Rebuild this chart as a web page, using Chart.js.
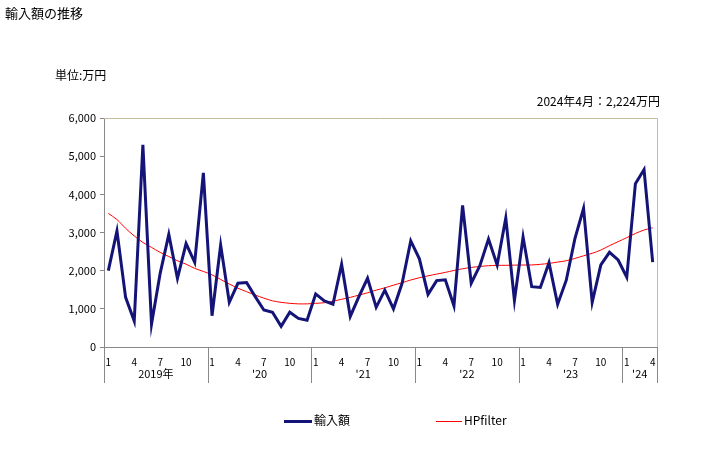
<!DOCTYPE html>
<html>
<head>
<meta charset="utf-8">
<script src="https://cdn.jsdelivr.net/npm/chart.js@4/dist/chart.umd.min.js"></script>
<style>
  body { margin: 0; background: #fff; font-family: "Noto Sans CJK JP", sans-serif; }
  #wrap { position: relative; width: 728px; height: 450px; }
  .txt { position: absolute; font-size: 12px; color: #000; white-space: nowrap; }
  .leg { position: absolute; top: 413px; font-size: 12px; line-height: 14px; }
  .leg span { display: inline-block; vertical-align: middle; margin-right: 2px; }
</style>
</head>
<body>
<div id="wrap">
  <canvas id="grafico" width="728" height="450"></canvas>
  <div class="txt" style="left:5px;top:3px;font-size:13px;">輸入額の推移</div>
  <div class="txt" style="left:55px;top:66px;">単位:万円</div>
  <div class="txt" style="right:68px;top:92px;">2024年4月：2,224万円</div>
  <div class="leg" style="left:284px;"><span style="width:28px;height:3px;background:#141478;"></span>輸入額</div>
  <div class="leg" style="left:436px;"><span style="width:26px;height:1px;background:#ff0000;"></span>HPfilter</div>
</div>
<script>
// meses jan/2019 .. abr/2024
const meses = [];
for (let a = 2019; a <= 2024; a++) {
    const fim = a === 2024 ? 4 : 12;
    for (let m = 1; m <= fim; m++) meses.push(String(m));
}
const anos = ['2019年', "'20", "'21", "'22", "'23", "'24"];
const mesesVisiveis = ['1', '4', '7', '10'];

const importacao = [
    2000, 3040, 1300, 680, 5300, 600, 1930, 2950, 1800, 2710, 2220, 4560,
    820, 2670, 1170, 1670, 1690, 1320, 970, 910, 540, 910, 750, 700,
    1390, 1210, 1120, 2170, 800, 1320, 1800, 1040, 1490, 1000, 1670, 2780,
    2310, 1380, 1740, 1760, 1080, 3710, 1670, 2130, 2830, 2150, 3380, 1220,
    2880, 1580, 1560, 2210, 1120, 1750, 2840, 3630, 1170, 2150, 2480, 2280,
    1830, 4280, 4650, 2224
];
const hpFilter = [
    3500, 3340, 3110, 2910, 2740, 2610, 2480, 2370, 2260, 2170, 2060, 1980,
    1890, 1770, 1650, 1540, 1450, 1360, 1280, 1210, 1170, 1145, 1130, 1130,
    1145, 1160, 1200, 1250, 1300, 1360, 1420, 1490, 1550, 1620, 1685, 1755,
    1815, 1865, 1910, 1955, 2005, 2050, 2085, 2110, 2130, 2140, 2140, 2145,
    2148, 2150, 2166, 2190, 2225, 2260, 2320, 2390, 2455, 2540, 2655, 2760,
    2865, 2975, 3065, 3125
];

const eixoAnos = {
    id: 'eixoAnos',
    afterDraw(chart) {
        const ctx = chart.ctx;
        const x = chart.scales.x;
        const area = chart.chartArea;
        // borda superior e direita
        ctx.save();
        ctx.strokeStyle = '#c4bc9c';
        ctx.lineWidth = 1;
        ctx.beginPath();
        ctx.moveTo(area.left, area.top + 0.5);
        ctx.lineTo(area.right + 0.5, area.top + 0.5);
        ctx.lineTo(area.right + 0.5, area.bottom);
        ctx.stroke();

        const limites = [];
        for (let i = 0; i < meses.length; i += 12) {
            limites.push(i === 0 ? area.left : (x.getPixelForValue(i - 1) + x.getPixelForValue(i)) / 2);
        }
        limites.push(area.right);

        ctx.strokeStyle = '#888888';
        ctx.beginPath();
        limites.forEach(px => {
            const xx = Math.round(px) + 0.5;
            ctx.moveTo(xx, area.bottom);
            ctx.lineTo(xx, area.bottom + 36);
        });
        ctx.stroke();

        ctx.fillStyle = '#000';
        ctx.font = '11px "Noto Sans CJK JP", sans-serif';
        ctx.textAlign = 'center';
        ctx.textBaseline = 'middle';
        anos.forEach((ano, i) => {
            ctx.fillText(ano, (limites[i] + limites[i + 1]) / 2, area.bottom + 27);
        });
        ctx.restore();
    }
};

const ctxGrafico = document.getElementById('grafico').getContext('2d');
new Chart(ctxGrafico, {
    type: 'line',
    data: {
        labels: meses,
        datasets: [
            {
                label: '輸入額',
                data: importacao,
                borderColor: '#141478',
                borderWidth: 3,
                pointRadius: 0,
                tension: 0
            },
            {
                label: 'HPfilter',
                data: hpFilter,
                borderColor: '#ff0000',
                borderWidth: 1,
                pointRadius: 0,
                tension: 0.3
            }
        ]
    },
    options: {
        responsive: false,
        animation: false,
        layout: { padding: { top: 118, right: 71, left: 0, bottom: 0 } },
        plugins: { legend: { display: false }, tooltip: { enabled: false } },
        scales: {
            x: {
                offset: true,
                grid: { display: false },
                border: { color: '#888888' },
                afterFit(s) { s.height = 103; },
                ticks: {
                    autoSkip: false,
                    maxRotation: 0,
                    padding: 1,
                    color: '#000',
                    font: { size: 10, family: '"Noto Sans CJK JP", sans-serif' },
                    callback(v) {
                        const l = this.getLabelForValue(v);
                        return mesesVisiveis.includes(l) ? l : '';
                    }
                }
            },
            y: {
                min: 0,
                max: 6000,
                afterFit(s) { s.width = 104; },
                grid: { drawOnChartArea: false, drawTicks: true, tickLength: 4, color: '#888888' },
                border: { color: '#888888' },
                ticks: {
                    stepSize: 1000,
                    padding: 4,
                    color: '#000',
                    font: { size: 11, family: '"Noto Sans CJK JP", sans-serif' },
                    callback: v => v.toLocaleString('en-US')
                }
            }
        }
    },
    plugins: [eixoAnos]
});
</script>
</body>
</html>
